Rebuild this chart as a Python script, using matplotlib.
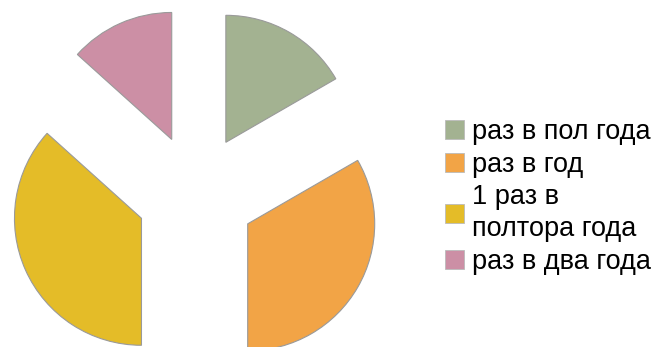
import matplotlib
matplotlib.use("Agg")
import matplotlib.pyplot as plt

labels = ["раз в пол года", "раз в год", "1 раз в\nполтора года", "раз в два года"]
values = [5, 10, 11, 4]
colors = ["#A3B291", "#F2A446", "#E4BC28", "#CC8FA5"]

plt.rcParams['font.family'] = ['Liberation Sans', 'DejaVu Sans']

W, H = 659, 347
fig = plt.figure(figsize=(W / 100, H / 100), dpi=100)
ax = fig.add_axes([0, 0, 1, 1])

cx, cy, r = 196, 194, 127
wedges, _ = ax.pie(values, colors=colors, startangle=90, counterclock=False,
                   explode=[0.47] * len(values), radius=1,
                   wedgeprops=dict(edgecolor="#9a9a9a", linewidth=0.8))
ax.set_xlim(-cx / r, (W - cx) / r)
ax.set_ylim((cy - H) / r, cy / r)
ax.set_aspect('auto')
ax.axis('off')

leg = fig.legend(wedges, labels, loc='center left', bbox_to_anchor=(445 / W, 1 - 197 / H),
                 frameon=False, fontsize=19.5, borderpad=0, handlelength=0.7, handleheight=0.7,
                 handletextpad=0.3, labelspacing=0.25, borderaxespad=0)
for t in leg.get_texts():
    t.set_linespacing(1.3)
for p in leg.get_patches():
    p.set_edgecolor("#bbbbbb")
    p.set_linewidth(0.6)

fig.savefig("out.png", dpi=100)
